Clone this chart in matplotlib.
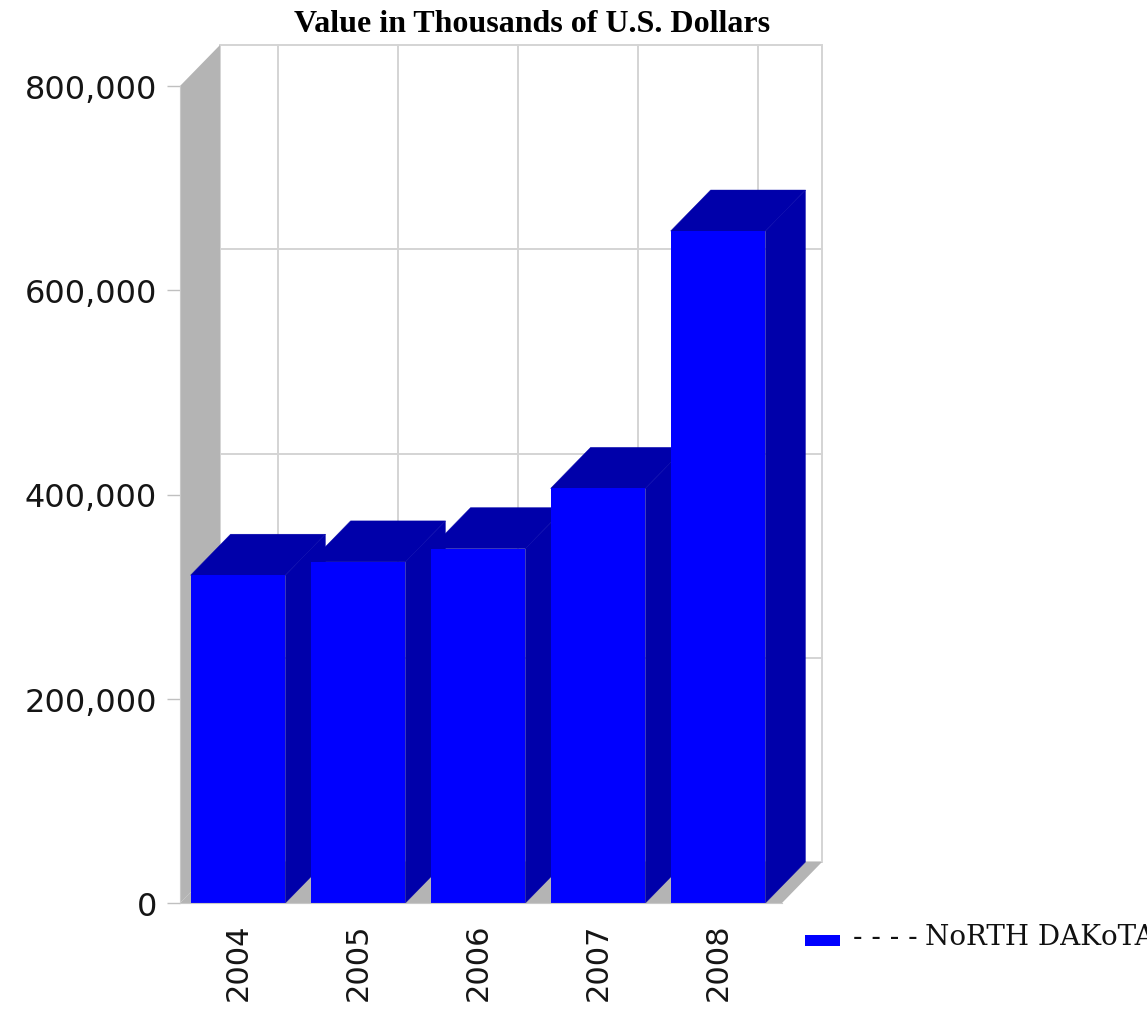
import numpy as np
import matplotlib
matplotlib.use('Agg')
import matplotlib.pyplot as plt
from matplotlib.patches import Polygon, Rectangle

# data (thousands of U.S. dollars)
years = ['2004', '2005', '2006', '2007', '2008']
values = [321000, 334000, 347000, 406000, 658000]
yticks = [0, 200000, 400000, 600000, 800000]
series_name = 'N\u1d0fRTH DAK\u1d0fTA'
title = 'Value in Thousands of U.S. Dollars'

front_col = '#0000ff'
dark_col = '#0000aa'
wall_col = '#b4b4b4'
grid_col = '#d4d4d4'

W, H = 1147, 1012
fig = plt.figure(figsize=(W / 100, H / 100), dpi=100)
ax = fig.add_axes([180 / W, (H - 904) / H, (782 - 180) / W, (904 - 87) / H])

x = np.arange(len(years))
bw = 0.79
x0, x1 = -0.483, 4.533
y0, y1 = 0, 800000
ax.set_xlim(x0, x1)
ax.set_ylim(y0, y1)

# 3d depth: 40 px right, 41 px up, converted to data units
ax_w = (782 - 180)
ax_h = (904 - 87)
dx = 40 * (x1 - x0) / ax_w
dy = 41 * (y1 - y0) / ax_h

def add(p):
    p.set_clip_on(False)
    ax.add_patch(p)

# back wall
add(Rectangle((x0 + dx, y0 + dy), x1 - x0, y1 - y0, facecolor='white',
              edgecolor=grid_col, linewidth=1.4, zorder=0))
# gridlines on back wall
for v in yticks[1:-1]:
    ax.plot([x0 + dx, x1 + dx], [v + dy, v + dy], color=grid_col, lw=1.4,
            clip_on=False, zorder=1)
for xi in x:
    ax.plot([xi + dx, xi + dx], [y0 + dy, y1 + dy], color=grid_col, lw=1.4,
            clip_on=False, zorder=1)

# left wall and floor
add(Polygon([(x0, y0), (x0 + dx, y0 + dy), (x0 + dx, y1 + dy), (x0, y1)],
            closed=True, facecolor=wall_col, edgecolor='none', zorder=2))
add(Polygon([(x0, y0), (x1, y0), (x1 + dx, y0 + dy), (x0 + dx, y0 + dy)],
            closed=True, facecolor=wall_col, edgecolor='none', zorder=2))

# bars, left to right so later ones overlap
z = 3
for xi, v in zip(x, values):
    l, r = xi - bw / 2, xi + bw / 2
    add(Polygon([(r, 0), (r + dx, dy), (r + dx, v + dy), (r, v)], closed=True,
                facecolor=dark_col, edgecolor=dark_col, lw=0.3, zorder=z))
    add(Polygon([(l, v), (r, v), (r + dx, v + dy), (l + dx, v + dy)], closed=True,
                facecolor=dark_col, edgecolor=dark_col, lw=0.3, zorder=z))
    add(Rectangle((l, 0), bw, v, facecolor=front_col, edgecolor='none', zorder=z + 0.5))
    z += 1

for s in ['top', 'right']:
    ax.spines[s].set_visible(False)
for s in ['left', 'bottom']:
    ax.spines[s].set_color('#c8c8c8')
    ax.spines[s].set_zorder(20)
ax.patch.set_visible(False)

ax.set_yticks(yticks)
ax.set_yticklabels(['{:,}'.format(v) for v in yticks])
ax.tick_params(axis='y', length=9.4, width=1, color='#c0c0c0', pad=7,
               labelsize=23, labelcolor='#151515')
ax.set_xticks(x)
ax.set_xticklabels(years, rotation=90)
ax.tick_params(axis='x', length=0, pad=14, labelsize=22, labelcolor='#151515')
for lab in ax.get_xticklabels() + ax.get_yticklabels():
    lab.set_family('DejaVu Sans')

fig.text(532 / W, (H - 32) / H, title, ha='center', va='baseline',
         family='Liberation Serif', weight='bold', fontsize=23)

# legend
fig.patches.append(Rectangle((805 / W, (H - 947) / H), 35 / W, 11 / H,
                             transform=fig.transFigure, facecolor=front_col,
                             edgecolor='none'))
fig.text(853 / W, (H - 938) / H, '- - - -', ha='left', va='center',
         family='DejaVu Serif', fontsize=20, color='#111111')
fig.text(925 / W, (H - 938) / H, series_name, ha='left', va='center',
         family=['DejaVu Serif', 'DejaVu Sans'], fontsize=20, color='#111111')

fig.savefig('out.png', dpi=100)
